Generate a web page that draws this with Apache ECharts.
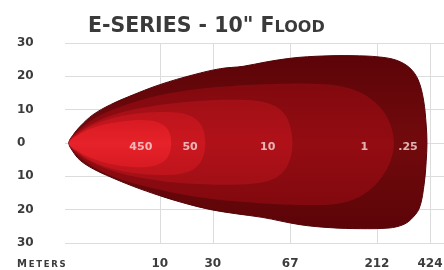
<!DOCTYPE html>
<html>
<head>
<meta charset="utf-8">
<script src="https://cdn.jsdelivr.net/npm/echarts@6/dist/echarts.min.js"></script>
<style>
  html, body { margin: 0; padding: 0; background: #fff; }
  #chart { width: 444px; height: 270px; }
</style>
</head>
<body>
<div id="chart"></div>
<script>
// 照度等级 (lux)
var luxNames = ['.25', '1', '10', '50', '450'];

// 距离刻度 (meters) 及其在横轴上的位置
var meterLabels = ['10', '30', '67', '212', '424'];
var meterTickX = [25, 39, 59.4, 82.3, 96.3];

// 各等级轮廓：上沿 / 下沿
var top025 = [[1, 0], [2, 2.2], [4, 5], [7.4, 8.5], [12, 11.5], [17, 14], [25, 17.5], [34, 20.5], [41, 22.3], [47, 23], [53, 24.3], [60, 25.5], [68, 26.1], [76, 26.2], [83, 25.8], [87.5, 24.8], [91, 22.5], [93.2, 18.9], [94.6, 12.9], [95.3, 5.4], [95.5, 0]];
var bot025 = [[1, 0], [2, -2.4], [4, -5.2], [7.5, -7.8], [12, -10.2], [18, -13], [25, -15.8], [32, -18.2], [38.5, -20], [45, -21.2], [52, -22.3], [62, -24.5], [70, -25.4], [78, -25.7], [85.5, -25.5], [89, -24.6], [91.2, -23], [93.5, -19.5], [94.8, -12], [95.3, -5.5], [95.5, 0]];

var top1 = [[1, 0], [3, 3.3], [8, 7.5], [15, 11], [25, 14.3], [35, 16.2], [45, 17.2], [55, 17.7], [65, 17.8], [72, 17.2], [77, 15.6], [81, 13], [84, 9.5], [86, 5], [86.8, 0]];
var bot1 = [[1, 0], [3, -3.3], [8, -7.5], [15, -11], [25, -14], [35, -16.2], [45, -17.5], [55, -18.3], [65, -18.6], [72, -18.2], [77, -16.5], [81, -13.5], [84, -9.5], [86, -5], [86.8, 0]];

var top10 = [[1, 0], [3, 2.8], [8, 6.3], [15, 9.2], [25, 11.4], [35, 12.6], [44, 13], [51, 12.6], [55.5, 11], [58.3, 8], [59.6, 4], [60, 0]];
var bot10 = [[1, 0], [3, -2.8], [8, -6.3], [15, -9.2], [25, -11.3], [35, -12.3], [44, -12.5], [51, -12], [55.5, -10.5], [58.3, -7.5], [59.6, -4], [60, 0]];

var top50 = [[1, 0], [3, 2.4], [7, 5.2], [12, 7.3], [18, 8.7], [25, 9.3], [30.5, 9], [34, 7.6], [36.2, 4.8], [37, 0]];
var bot50 = [[1, 0], [3, -2.5], [7, -5.4], [12, -7.6], [18, -9], [25, -9.6], [30.5, -9.2], [34, -7.8], [36.2, -4.8], [37, 0]];

var top450 = [[1, 0], [3, 2.1], [7, 4.4], [12, 5.9], [18, 6.8], [23, 6.7], [26.2, 5.2], [27.6, 3], [28, 0]];
var bot450 = [[1, 0], [3, -2.2], [7, -4.6], [12, -6.3], [18, -7.2], [23, -7], [26.2, -5.4], [27.6, -3], [28, 0]];

var topEdges = [top025, top1, top10, top50, top450];
var botEdges = [bot025, bot1, bot10, bot50, bot450];

// 标注位置 (横轴)
var luxLabelX = [90.5, 79, 53.5, 33, 20];

// 颜色：边缘 / 中间
var edgeColors = ['#5c0408', '#82090f', '#a20f16', '#be141c', '#d81a22'];
var midColors = ['#720a0d', '#930c12', '#b01119', '#cb171f', '#e6222a'];

var chart = echarts.init(document.getElementById('chart'));

function renderContour(params, api) {
	var i = params.dataIndex;
	var pts = topEdges[i].concat(botEdges[i].slice(1, -1).reverse());
	var points = pts.map(function (p) { return api.coord(p); });
	return {
		type: 'polygon',
		shape: { points: points, smooth: 0.35 },
		style: {
			fill: new echarts.graphic.LinearGradient(0, 0, 0, 1, [
				{ offset: 0, color: edgeColors[i] },
				{ offset: 0.5, color: midColors[i] },
				{ offset: 1, color: edgeColors[i] }
			]),
			stroke: i === 0 ? '#520407' : null,
			lineWidth: i === 0 ? 1 : 0
		}
	};
}

var labelFont = 'DejaVu Sans';

option = {
	animation: false,
	title: {
		text: '{a|E-SERIES - 10" F}{b|LOOD}',
		left: 88,
		top: 15,
		padding: 0,
		textStyle: {
			rich: {
				a: { fontFamily: labelFont, fontWeight: 'bold', fontSize: 20.5, color: '#3a3a3a', verticalAlign: 'bottom', lineHeight: 22 },
				b: { fontFamily: labelFont, fontWeight: 'bold', fontSize: 16, color: '#3a3a3a', verticalAlign: 'bottom', lineHeight: 16, padding: [0, 0, 1, 0] }
			}
		}
	},
	graphic: [{
		type: 'text',
		left: 17,
		top: 259,
		style: {
			text: '{m|M}{e|\u2009E\u2009T\u2009E\u2009R\u2009S}',
			rich: {
				m: { fontFamily: labelFont, fontWeight: 'bold', fontSize: 10, fill: '#3a3a3a', verticalAlign: 'bottom', lineHeight: 11 },
				e: { fontFamily: labelFont, fontWeight: 'bold', fontSize: 8.5, fill: '#3a3a3a', verticalAlign: 'bottom', lineHeight: 11 }
			}
		}
	}],
	grid: { left: 65, right: 0, top: 43, bottom: 27, outerBoundsMode: 'none' },
	xAxis: {
		type: 'value',
		min: 0,
		max: 100,
		axisLine: { show: false },
		axisTick: { show: false, customValues: meterTickX },
		axisLabel: {
			customValues: meterTickX,
			margin: 15,
			fontFamily: labelFont,
			fontWeight: 'bold',
			fontSize: 12,
			color: '#3c3c3c',
			formatter: function (v) {
				var k = meterTickX.indexOf(v);
				return k >= 0 ? meterLabels[k] : '';
			}
		},
		splitLine: { show: true, lineStyle: { color: '#dcdcdc', width: 1 } }
	},
	yAxis: {
		type: 'value',
		min: -30,
		max: 30,
		interval: 10,
		axisLine: { show: false },
		axisTick: { show: false },
		axisLabel: {
			align: 'left',
			margin: 48,
			fontFamily: labelFont,
			fontWeight: 'bold',
			fontSize: 12,
			color: '#3c3c3c',
			formatter: function (v) { return String(Math.abs(v)); }
		},
		splitLine: { show: true, lineStyle: { color: '#dcdcdc', width: 1 } }
	},
	series: [
		{
			type: 'custom',
			renderItem: renderContour,
			data: luxNames.map(function (n, i) { return { name: n, value: [luxLabelX[i], 0] }; }),
			silent: true,
			z: 2
		},
		{
			type: 'scatter',
			symbolSize: 1,
			itemStyle: { color: 'rgba(0,0,0,0)' },
			data: luxNames.map(function (n, i) { return { name: n, value: [luxLabelX[i], 0] }; }),
			label: {
				show: true,
				position: 'inside',
				offset: [0, 4],
				formatter: '{b}',
				fontFamily: labelFont,
				fontWeight: 'bold',
				fontSize: 11,
				color: '#f6dede'
			},
			silent: true,
			z: 5
		}
	]
};

chart.setOption(option);
</script>
</body>
</html>
